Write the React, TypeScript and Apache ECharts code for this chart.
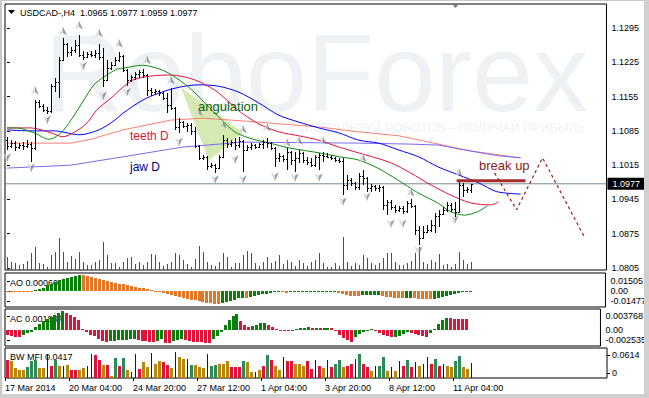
import React, { useEffect, useRef } from 'react';
import * as echarts from 'echarts';

const FONT = '"Liberation Sans", Arial, sans-serif';

// [open, high, low, close] per H4 bar
const ohlc: number[][] = [
  [1.1066,1.1073,1.1046,1.1054],[1.1054,1.1066,1.1050,1.1060],[1.1060,1.1064,1.1044,1.1052],[1.1052,1.1060,1.1048,1.1056],[1.1056,1.1062,1.1046,1.1054],
  [1.1054,1.1066,1.1050,1.1058],[1.1058,1.1062,1.1022,1.1050],[1.1050,1.1148,1.1046,1.1144],[1.1144,1.1148,1.1132,1.1136],[1.1136,1.1140,1.1124,1.1128],
  [1.1128,1.1134,1.1119,1.1126],[1.1126,1.1181,1.1121,1.1176],[1.1176,1.1193,1.1164,1.1185],[1.1185,1.1236,1.1152,1.1230],[1.1230,1.1274,1.1228,1.1262],
  [1.1262,1.1265,1.1236,1.1246],[1.1246,1.1256,1.1238,1.1250],[1.1250,1.1270,1.1244,1.1260],[1.1260,1.1281,1.1236,1.1240],[1.1240,1.1248,1.1230,1.1236],
  [1.1236,1.1246,1.1234,1.1242],[1.1242,1.1248,1.1236,1.1240],[1.1240,1.1250,1.1234,1.1244],[1.1244,1.1262,1.1230,1.1236],[1.1236,1.1254,1.1174,1.1189],
  [1.1189,1.1230,1.1187,1.1213],[1.1213,1.1225,1.1209,1.1219],[1.1219,1.1236,1.1217,1.1230],[1.1230,1.1246,1.1225,1.1238],[1.1238,1.1240,1.1205,1.1209],
  [1.1209,1.1211,1.1176,1.1189],[1.1189,1.1199,1.1185,1.1195],[1.1195,1.1205,1.1189,1.1201],[1.1201,1.1209,1.1193,1.1205],[1.1205,1.1211,1.1193,1.1199],
  [1.1199,1.1201,1.1156,1.1168],[1.1168,1.1172,1.1156,1.1164],[1.1164,1.1170,1.1158,1.1166],[1.1166,1.1168,1.1156,1.1162],[1.1162,1.1166,1.1148,1.1152],
  [1.1152,1.1162,1.1121,1.1138],[1.1138,1.1172,1.1128,1.1132],[1.1132,1.1134,1.1087,1.1093],[1.1093,1.1111,1.1081,1.1103],[1.1103,1.1105,1.1091,1.1095],
  [1.1095,1.1101,1.1083,1.1097],[1.1097,1.1101,1.1077,1.1085],[1.1085,1.1093,1.1050,1.1054],[1.1054,1.1056,1.1026,1.1030],[1.1030,1.1036,1.1026,1.1032],
  [1.1032,1.1034,1.1005,1.1013],[1.1013,1.1020,1.1009,1.1015],[1.1015,1.1018,1.0999,1.1009],[1.1009,1.1036,1.1007,1.1032],[1.1032,1.1077,1.1030,1.1066],
  [1.1066,1.1070,1.1050,1.1058],[1.1058,1.1066,1.1052,1.1062],[1.1062,1.1070,1.1046,1.1056],[1.1056,1.1073,1.1050,1.1064],[1.1064,1.1066,1.1001,1.1046],
  [1.1046,1.1056,1.1044,1.1052],[1.1052,1.1060,1.1046,1.1056],[1.1056,1.1058,1.1048,1.1052],[1.1052,1.1060,1.1050,1.1058],[1.1058,1.1066,1.1048,1.1062],
  [1.1062,1.1070,1.1050,1.1060],[1.1060,1.1062,1.1046,1.1050],[1.1050,1.1052,1.1011,1.1030],[1.1030,1.1040,1.1022,1.1034],[1.1034,1.1036,1.1022,1.1028],
  [1.1028,1.1050,1.1005,1.1042],[1.1042,1.1044,1.1015,1.1026],[1.1026,1.1042,1.1001,1.1030],[1.1030,1.1046,1.1020,1.1040],[1.1040,1.1042,1.1020,1.1026],
  [1.1026,1.1032,1.1015,1.1022],[1.1022,1.1030,1.1011,1.1015],[1.1015,1.1036,1.1011,1.1032],[1.1032,1.1040,1.1005,1.1036],[1.1036,1.1042,1.1022,1.1034],
  [1.1034,1.1040,1.1030,1.1032],[1.1032,1.1036,1.1026,1.1030],[1.1030,1.1032,1.1022,1.1026],[1.1026,1.1030,1.1020,1.1024],[1.1024,1.1030,1.0954,1.0975],
  [1.0975,1.0995,1.0965,1.0985],[1.0985,1.0989,1.0973,1.0979],[1.0979,1.0981,1.0965,1.0971],[1.0971,1.0999,1.0965,1.0993],[1.0993,1.1005,1.0975,1.0989],
  [1.0989,1.0991,1.0961,1.0969],[1.0969,1.0977,1.0961,1.0973],[1.0973,1.0975,1.0963,1.0969],[1.0969,1.0975,1.0961,1.0971],[1.0971,1.0973,1.0924,1.0934],
  [1.0934,1.0944,1.0913,1.0940],[1.0940,1.0944,1.0924,1.0930],[1.0930,1.0934,1.0917,1.0924],[1.0924,1.0932,1.0920,1.0928],[1.0928,1.0932,1.0915,1.0922],
  [1.0922,1.0942,1.0917,1.0938],[1.0938,1.0946,1.0928,1.0932],[1.0932,1.0934,1.0873,1.0883],[1.0883,1.0891,1.0852,1.0866],[1.0866,1.0891,1.0864,1.0879],
  [1.0879,1.0893,1.0877,1.0883],[1.0883,1.0903,1.0879,1.0893],[1.0893,1.0917,1.0877,1.0911],[1.0911,1.0924,1.0889,1.0915],[1.0915,1.0930,1.0913,1.0924],
  [1.0924,1.0940,1.0920,1.0934],[1.0934,1.0938,1.0920,1.0926],[1.0926,1.0940,1.0909,1.0920],[1.0920,1.0981,1.0917,1.0975],[1.0975,1.0979,1.0950,1.0965],
  [1.0965,1.0971,1.0959,1.0967],[1.0965,1.0977,1.0959,1.0977]
];

const volumes: number[] = [
  1300,800,700,500,600,900,1700,2300,700,600, 300,1500,1800,3200,1800,800,1400,1100,1800,800,
  500,500,800,1000,2800,1500,700,700,300,800, 1200,1300,600,800,500,800,1600,1500,800,400,
  600,800,1700,1500,1000,600,300,1100,2400,1800, 800,500,400,800,1700,1300,300,700,700,1500,
  1900,1700,700,400,800,1300,700,900,1500,600, 1000,800,400,1000,700,400,800,1000,1700,700,
  300,300,700,400,3300,800,400,700,500,1500, 1200,700,500,700,1200,1700,1700,800,500,500,
  700,900,1700,2300,800,600,1000,800,1600,500, 600,300,600,1800,1000,600,800
];

const upFractals: number[][] = [
  [7,1.1168],[14,1.1289],[18,1.1301],[23,1.1285],[28,1.1264],[35,1.1230],[41,1.1189],[48,1.1124],[54,1.1099],
  [59,1.1089],[65,1.1093],[70,1.1062],[73,1.1066],[79,1.1066],[89,1.1030],[101,1.0960],[113,1.1001]
];
const downFractals: number[][] = [
  [0,1.1030],[6,1.1009],[10,1.1107],[19,1.1217],[24,1.1156],[30,1.1164],[43,1.1062],[52,1.0985],[57,1.1026],[59,1.0985],
  [67,1.0991],[72,1.0989],[78,1.0989],[84,1.0940],[90,1.0950],[96,1.0895],[99,1.0895],[103,1.0840],[112,1.0903]
];

const jaw: number[][] = [
  [0,1.1087],[6,1.1085],[12,1.1085],[15,1.1081],[18,1.1077],[23,1.1087],[27,1.1107],[29,1.1121],[34,1.1148],[38,1.1162],
  [43,1.1174],[48,1.1179],[53,1.1176],[58,1.1164],[63,1.1142],[68,1.1117],[73,1.1103],[78,1.1091],[83,1.1081],[88,1.1066],
  [93,1.1060],[98,1.1046],[103,1.1032],[108,1.1011],[113,1.0995],[118,1.0979],[122.5,1.0961],[128.5,1.0956]
];
const teeth: number[][] = [
  [0,1.1091],[6,1.1091],[11,1.1081],[14,1.1073],[17,1.1083],[20,1.1101],[22.5,1.1128],[26,1.1152],[29,1.1174],[31.5,1.1189],
  [36,1.1197],[41,1.1199],[47,1.1189],[52,1.1168],[55,1.1148],[58,1.1126],[61,1.1109],[63,1.1099],[68,1.1083],[73,1.1075],
  [78,1.1066],[83,1.1052],[88,1.1040],[96,1.1020],[101,1.0999],[106,1.0975],[111,1.0954],[116,1.0938],[121,1.0934],[123,1.0940]
];
const lips: number[][] = [
  [0,1.1091],[2.5,1.1091],[6.75,1.1081],[10.5,1.1068],[13.5,1.1081],[16,1.1107],[19.25,1.1148],[21.75,1.1179],[24.25,1.1195],
  [27.5,1.1211],[29.25,1.1213],[33.75,1.1219],[38.25,1.1211],[41.25,1.1199],[45.5,1.1174],[49.5,1.1142],[53.75,1.1107],[57,1.1083],
  [60.75,1.1070],[65.75,1.1060],[70.75,1.1050],[78.25,1.1040],[83.25,1.1032],[87.75,1.1026],[92.75,1.1009],[97.75,1.0985],
  [102.75,1.0959],[107.75,1.0938],[111,1.0920],[114.5,1.0913],[117.75,1.0920],[120.25,1.0932]
];
const teethD: number[][] = [
  [0,1.1060],[16,1.1060],[21,1.1068],[29,1.1087],[41,1.1107],[49,1.1111],[59.5,1.1105],[78,1.1093],[88,1.1083],[98,1.1075],
  [108,1.1058],[116,1.1044],[128.5,1.1030]
];
const jawD: number[][] = [
  [0,1.1009],[16,1.1015],[29,1.1032],[44,1.1052],[59,1.1062],[88,1.1060],[101,1.1058],[108,1.1056],[114.5,1.1046],[123,1.1034],[128.5,1.1030]
];

const ao: number[] = [
  -0.0010,-0.0011,-0.0012,-0.0013,-0.0014,-0.0015,-0.0016,0.0010,0.0030,0.0049,
  0.0085,0.0109,0.0134,0.0159,0.0183,0.0198,0.0209,0.0228,0.0243,0.0234,
  0.0219,0.0209,0.0194,0.0174,0.0159,0.0145,0.0130,0.0119,0.0109,0.0100,
  0.0085,0.0070,0.0060,0.0049,0.0040,0.0025,0.0015,0.0004,-0.0015,-0.0030,
  -0.0049,-0.0064,-0.0079,-0.0089,-0.0104,-0.0119,-0.0130,-0.0139,-0.0153,-0.0164,
  -0.0174,-0.0179,-0.0189,-0.0198,-0.0179,-0.0164,-0.0149,-0.0130,-0.0109,-0.0100,
  -0.0104,-0.0089,-0.0079,-0.0064,-0.0049,-0.0040,-0.0030,-0.0019,-0.0015,-0.0019,
  -0.0022,-0.0018,-0.0015,-0.0013,-0.0012,-0.0011,-0.0010,-0.0009,-0.0008,-0.0007,
  -0.0006,-0.0005,-0.0004,-0.0025,-0.0040,-0.0060,-0.0070,-0.0075,-0.0078,-0.0064,
  -0.0063,-0.0061,-0.0060,-0.0058,-0.0075,-0.0085,-0.0094,-0.0100,-0.0104,-0.0109,
  -0.0107,-0.0104,-0.0109,-0.0115,-0.0119,-0.0121,-0.0122,-0.0116,-0.0104,-0.0089,
  -0.0075,-0.0060,-0.0045,-0.0030,-0.0018,-0.0007,0.0006
];

const ac: number[] = [
  -0.0013,-0.0016,-0.0017,-0.00175,-0.0011,-0.0008,-0.0005,0.0008,0.0016,0.0024,
  0.0029,0.0034,0.0039,0.0045,0.0050,0.0045,0.0039,0.0034,0.0026,0.0003,
  -0.0005,-0.0011,-0.0016,-0.0024,-0.0029,-0.0031,-0.0029,-0.00276,-0.00263,-0.00255,
  -0.00244,-0.00236,-0.00228,-0.0025,-0.00276,-0.00289,-0.00302,-0.0031,-0.00276,-0.00236,
  -0.00334,-0.00341,-0.00289,-0.00263,-0.00236,-0.00263,-0.00289,-0.00297,-0.00307,-0.00315,
  -0.00323,-0.00328,-0.00236,-0.00158,-0.00053,0.00131,0.00263,0.00368,0.0042,0.00236,
  0.00131,0.00079,0.00105,0.00131,0.00184,0.00197,0.00131,0.00079,0.00039,0.00013,
  -0.00008,-0.00026,-0.00013,0.00026,0.00053,0.00066,0.00079,0.00066,0.00074,0.0006,
  0.00066,0.00068,0.00053,-0.00026,-0.00131,-0.0021,-0.00263,-0.00315,-0.00184,-0.00105,
  -0.00039,0.00013,0.00026,0.00013,-0.00079,-0.00131,-0.00158,-0.00184,-0.00171,-0.00158,
  -0.00105,-0.00053,-0.00066,-0.00105,-0.00131,-0.00158,-0.00171,-0.00079,0.00026,0.00158,
  0.00263,0.00328,0.00315,0.00307,0.00302,0.00297,0.00289
];

const mfi: number[] = [
  0.0474,0.0446,0.0279,0.0223,0.0223,0.0307,0.0446,0.0474,0.0279,0.0279,
  0.0642,0.0335,0.0474,0.0335,0.0335,0.0363,0.0223,0.0223,0.0223,0.0279,
  0.0335,0.0642,0.0614,0.0474,0.0363,0.0363,0.0056,0.0530,0.0335,0.0530,
  0.0223,0.0167,0.0642,0.0251,0.0419,0.0307,0.0670,0.0391,0.0446,0.0419,
  0.0363,0.0279,0.0698,0.0558,0.0502,0.0502,0.0363,0.0363,0.0307,0.0279,
  0.0642,0.0335,0.0363,0.0391,0.0391,0.0446,0.0307,0.0307,0.0307,0.0446,
  0.0419,0.0167,0.0167,0.0223,0.0335,0.0614,0.0474,0.0335,0.0223,0.0558,
  0.0446,0.0446,0.0391,0.0391,0.0335,0.0446,0.0251,0.0474,0.0335,0.0279,
  0.0474,0.0307,0.0391,0.0474,0.0307,0.0335,0.0391,0.0502,0.0642,0.0391,
  0.0307,0.0195,0.0335,0.0335,0.0558,0.0195,0.0307,0.0195,0.0446,0.0335,
  0.0474,0.0307,0.0419,0.0335,0.0391,0.0558,0.0391,0.0502,0.0335,0.0391,
  0.0335,0.0307,0.0446,0.0586,0.0307,0.0251,0.0417
];
// S = green (MFI+, vol+), C = squat, G = fade, B = fake
const mfiKind: string[] = [
  'C','G','G','G','G','S','S','S','G','G',
  'B','C','S','G','B','G','C','C','G','G',
  'B','B','C','C','G','C','G','S','C','S',
  'G','B','B','C','G','G','B','G','G','C',
  'C','G','B','G','G','B','S','G','G','G',
  'B','S','S','G','G','G','C','C','C','S',
  'G','G','B','G','C','S','C','G','G','B',
  'C','C','G','G','G','C','C','B','C','G',
  'B','C','S','S','G','C','C','B','S','C',
  'C','G','B','S','S','G','B','G','B','C',
  'S','C','B','G','B','B','C','S','C','B',
  'G','G','S','S','G','G','B'
];

const angulation: number[][] = [[43.5,1.1174],[59,1.1081],[50.5,1.1024]];
const breakLevel: number[][] = [[112.5,1.0983],[129.75,1.0983]];
const forecast: number[][] = [[122,1.0999],[127.5,1.0924],[134,1.1030],[144.5,1.0868]];
const lastPrice = 1.0977;
const priceTicks = [1.0805,1.0875,1.0945,1.1015,1.1085,1.1155,1.1225,1.1295];
const aoTicks = [-0.01477, 0, 0.01505];
const acTicks = [-0.002535, 0, 0.003768];
const mfiTicks = [0, 0.0614];
const dateTicks = [-0.5,15.5,31.5,47.5,63.5,79.5,95.5,111.5];
const dateLabels = ['17 Mar 2014','20 Mar 04:00','24 Mar 20:00','27 Mar 12:00','1 Apr 04:00','3 Apr 20:00','8 Apr 12:00','11 Apr 04:00'];

const X_MIN = -0.5;
const X_MAX = 150;

export default function App() {
  const ref = useRef<HTMLDivElement>(null);
  useEffect(() => {
    if (!ref.current) return;
    const chart = echarts.init(ref.current, null, { renderer: 'svg' });

    const trend = (arr: number[]) => arr.map((v, k) => [k, v, k > 0 && v > arr[k - 1] ? 1 : 0]);
    const kindIdx: Record<string, number> = { S: 0, C: 1, G: 2, B: 3 };
    const mfiColors = ['#2e8b57', '#dc143c', '#b8860b', '#0000ff'];

    const hist = (colors: string[], widthFor: (c: number) => number) => (params: any, api: any) => {
      const i = api.value(0), v = api.value(1), c = api.value(2);
      const p0 = api.coord([i, 0]);
      const p1 = api.coord([i, v]);
      const y0 = Math.round(p0[1]);
      const y1 = Math.round(p1[1]);
      const w = widthFor(c);
      const x = Math.round(p0[0]) - Math.floor(w / 2);
      return {
        type: 'rect',
        shape: { x, y: Math.min(y0, y1), width: w, height: Math.max(1, Math.abs(y1 - y0)) },
        style: { fill: colors[c] },
      };
    };

    const fractalColor = new echarts.graphic.LinearGradient(0, 0, 1, 0, [
      { offset: 0, color: '#cdd2d8' }, { offset: 0.5, color: '#cdd2d8' },
      { offset: 0.5, color: '#7d8590' }, { offset: 1, color: '#7d8590' },
    ]);

    const labelStyle = { fontSize: 9, color: '#000', fontFamily: FONT };
    const grids = [
      { left: 5, top: 4, width: 602, height: 266 },
      { left: 5, top: 273, width: 602, height: 34 },
      { left: 5, top: 309, width: 602, height: 37 },
      { left: 5, top: 348, width: 602, height: 30 },
    ].map((g) => ({ ...g, show: true, borderColor: '#000', borderWidth: 1, backgroundColor: 'transparent' }));

    const xAxes = [0, 1, 2, 3].map((g) => ({
      type: 'value', gridIndex: g, min: X_MIN, max: X_MAX, show: g === 3,
      axisLine: { show: false }, splitLine: { show: false },
      axisTick: g === 3 ? { show: true, customValues: dateTicks, length: 3, lineStyle: { color: '#000' } } : { show: false },
      axisLabel: g === 3 ? {
        ...labelStyle, customValues: dateTicks, align: 'left', margin: 5,
        formatter: (v: number) => { const k = dateTicks.findIndex((t) => Math.abs(t - v) < 0.01); return k >= 0 ? dateLabels[k] : ''; },
      } : { show: false },
    }));

    const labelAxis = (g: number, min: number, max: number, ticks: number[], fmt: (v: number) => string) => ({
      type: 'value', gridIndex: g, position: 'right', min, max,
      axisLine: { show: false }, splitLine: { show: false },
      axisTick: { show: true, customValues: ticks, length: 3, lineStyle: { color: '#000' } },
      axisLabel: { ...labelStyle, customValues: ticks, margin: 5, formatter: fmt },
    });
    const pick = (ticks: number[], texts: string[]) => (v: number) => {
      let best = 0;
      ticks.forEach((t, k) => { if (Math.abs(t - v) < Math.abs(ticks[best] - v)) best = k; });
      return texts[best];
    };

    const yAxes: any[] = [
      labelAxis(0, 1.0801, 1.1344, priceTicks, (v) => v.toFixed(4)),
      { type: 'value', gridIndex: 0, min: 0, max: 26600, show: false },
      {
        type: 'value', gridIndex: 0, position: 'right', min: 1.0801, max: 1.1344,
        axisLine: { show: false }, splitLine: { show: false }, axisTick: { show: false },
        axisLabel: { customValues: [lastPrice], formatter: () => lastPrice.toFixed(4), color: '#fff', backgroundColor: '#000',
          padding: [2, 6, 1, 5], fontSize: 9, fontFamily: FONT, margin: 1 },
      },
      labelAxis(1, -0.02372, 0.02698, aoTicks, pick(aoTicks, ['-0.01477', '0.00', '0.01505'])),
      labelAxis(2, -0.004111, 0.005606, acTicks, pick(acTicks, ['-0.002535', '0.00', '0.003768'])),
      { type: 'value', gridIndex: 3, min: 0, max: 0.0809, show: false },
      labelAxis(3, -0.01806, 0.0867, mfiTicks, pick(mfiTicks, ['0', '0.0614'])),
    ];

    const mainLine = (data: number[][], color: string, smooth: number | boolean, z = 2) => ({
      type: 'line', xAxisIndex: 0, yAxisIndex: 0, data, symbol: 'none', smooth, silent: true, z,
      lineStyle: { color, width: 1 },
    });

    const series: any[] = [
      {
        type: 'custom', xAxisIndex: 0, yAxisIndex: 0, z: 1, silent: true, data: [angulation[0]],
        renderItem: (params: any, api: any) => ({
          type: 'polygon', shape: { points: angulation.map((p) => api.coord(p)) }, style: { fill: '#d5e9b3' },
        }),
      },
      { ...mainLine([[X_MIN, lastPrice], [X_MAX, lastPrice]], '#778899', false, 1) },
      {
        type: 'custom', xAxisIndex: 0, yAxisIndex: 1, z: 1, silent: true,
        data: volumes.map((v, k) => [k, v, 0]),
        renderItem: hist(['#0a7d0a'], () => 1),
      },
      mainLine(teethD, '#fa8072', false),
      mainLine(jawD, '#7b68ee', false),
      mainLine(jaw, '#0000ff', 0.3),
      mainLine(teeth, '#e0143c', 0.3),
      mainLine(lips, '#108a10', 0.3),
      {
        type: 'custom', xAxisIndex: 0, yAxisIndex: 0, z: 3, silent: true,
        data: ohlc.map((b, k) => [k, ...b]),
        renderItem: (params: any, api: any) => {
          const i = api.value(0);
          const pO = api.coord([i, api.value(1)]);
          const pH = api.coord([i, api.value(2)]);
          const pL = api.coord([i, api.value(3)]);
          const pC = api.coord([i, api.value(4)]);
          const x = Math.round(pH[0]);
          const top = Math.round(pH[1]);
          const bot = Math.round(pL[1]);
          return {
            type: 'group',
            children: [
              { type: 'rect', shape: { x, y: top, width: 1, height: Math.max(1, bot - top) }, style: { fill: '#000' } },
              { type: 'rect', shape: { x: x - 1, y: Math.round(pO[1]), width: 1, height: 1 }, style: { fill: '#000' } },
              { type: 'rect', shape: { x: x + 1, y: Math.round(pC[1]), width: 1, height: 1 }, style: { fill: '#000' } },
            ],
          };
        },
      },
      {
        type: 'scatter', xAxisIndex: 0, yAxisIndex: 0, z: 4, silent: true, data: upFractals,
        symbol: 'path://M5,0 L10,11 L5,8 L0,11 Z', symbolSize: [8, 9], itemStyle: { color: fractalColor },
      },
      {
        type: 'scatter', xAxisIndex: 0, yAxisIndex: 0, z: 4, silent: true, data: downFractals,
        symbol: 'path://M0,0 L5,3 L10,0 L5,11 Z', symbolSize: [8, 9], itemStyle: { color: fractalColor },
      },
      { ...mainLine(breakLevel, '#a52a2a', false, 4), lineStyle: { color: '#a52a2a', width: 3 } },
      { ...mainLine(forecast, '#9b1c1c', false, 4), lineStyle: { color: '#9b1c1c', width: 1.2, type: [3, 3] } },
      {
        type: 'custom', xAxisIndex: 1, yAxisIndex: 3, z: 3, silent: true, data: trend(ao),
        renderItem: hist(['#e0782a', '#0a7d0a'], () => 3),
      },
      {
        type: 'custom', xAxisIndex: 2, yAxisIndex: 4, z: 3, silent: true, data: trend(ac),
        renderItem: hist(['#dc143c', '#0a7d0a'], () => 3),
      },
      {
        type: 'custom', xAxisIndex: 3, yAxisIndex: 5, z: 3, silent: true,
        data: mfi.map((v, k) => [k, v, kindIdx[mfiKind[k]]]),
        renderItem: hist(mfiColors, (c) => (c === 3 ? 1 : 3)),
      },
    ];

    const txt = (text: string, x: number, y: number, fill: string, fontSize: number, z = 0) => ({
      type: 'text', x, y, z, silent: true,
      style: { text, fill, fontSize, fontFamily: 'Liberation Sans', verticalAlign: 'middle' },
    });

    const graphic: any[] = [
      txt('RoboForex', 44, 72, '#eff2f5', 110, 0),
      txt('ИСПОЛЬЗУЙ РОБОТОВ – ПОЛУЧАЙ ПРИБЫЛЬ', 304, 128, '#eff2f5', 12.5, 0),
      txt('angulation', 198, 106, '#0a640a', 13, 5),
      txt('teeth D', 130, 136, '#dc143c', 12, 5),
      txt('jaw D', 130, 167, '#000080', 12, 5),
      txt('break up', 479, 165, '#8b1a1a', 13, 5),
      { type: 'polygon', z: 5, silent: true, shape: { points: [[8, 10], [15, 10], [11.5, 14]] }, style: { fill: '#000' } },
      txt('USDCAD-,H4  1.0965 1.0977 1.0959 1.0977', 20, 12.5, '#000', 9, 5),
      txt('AO 0.00060', 10, 282.5, '#000', 9, 0),
      txt('AC 0.001887', 10, 318.5, '#000', 9, 0),
      txt('BW MFI 0.0417', 10, 356.5, '#000', 9, 0),
      { type: 'polygon', z: 5, silent: true, shape: { points: [[452, 4], [459, 4], [455.5, 8]] }, style: { fill: '#708090' } },
      { type: 'rect', z: 50, silent: true, shape: { x: 0, y: 0, width: 2, height: 398 }, style: { fill: '#c8c8c8' } },
      { type: 'rect', z: 50, silent: true, shape: { x: 0, y: 0, width: 649, height: 1 }, style: { fill: '#c8c8c8' } },
      { type: 'rect', z: 50, silent: true, shape: { x: 644, y: 0, width: 5, height: 398 }, style: { fill: '#d0d0d0' } },
      { type: 'rect', z: 50, silent: true, shape: { x: 0, y: 394, width: 649, height: 4 }, style: { fill: '#d0d0d0' } },
    ];

    chart.setOption({
      animation: false,
      backgroundColor: '#fff',
      grid: grids,
      xAxis: xAxes,
      yAxis: yAxes,
      series,
      graphic,
    });
    return () => chart.dispose();
  }, []);
  return <div ref={ref} style={{ position: 'absolute', left: 0, top: 0, width: 649, height: 398, background: '#fff' }} />;
}
